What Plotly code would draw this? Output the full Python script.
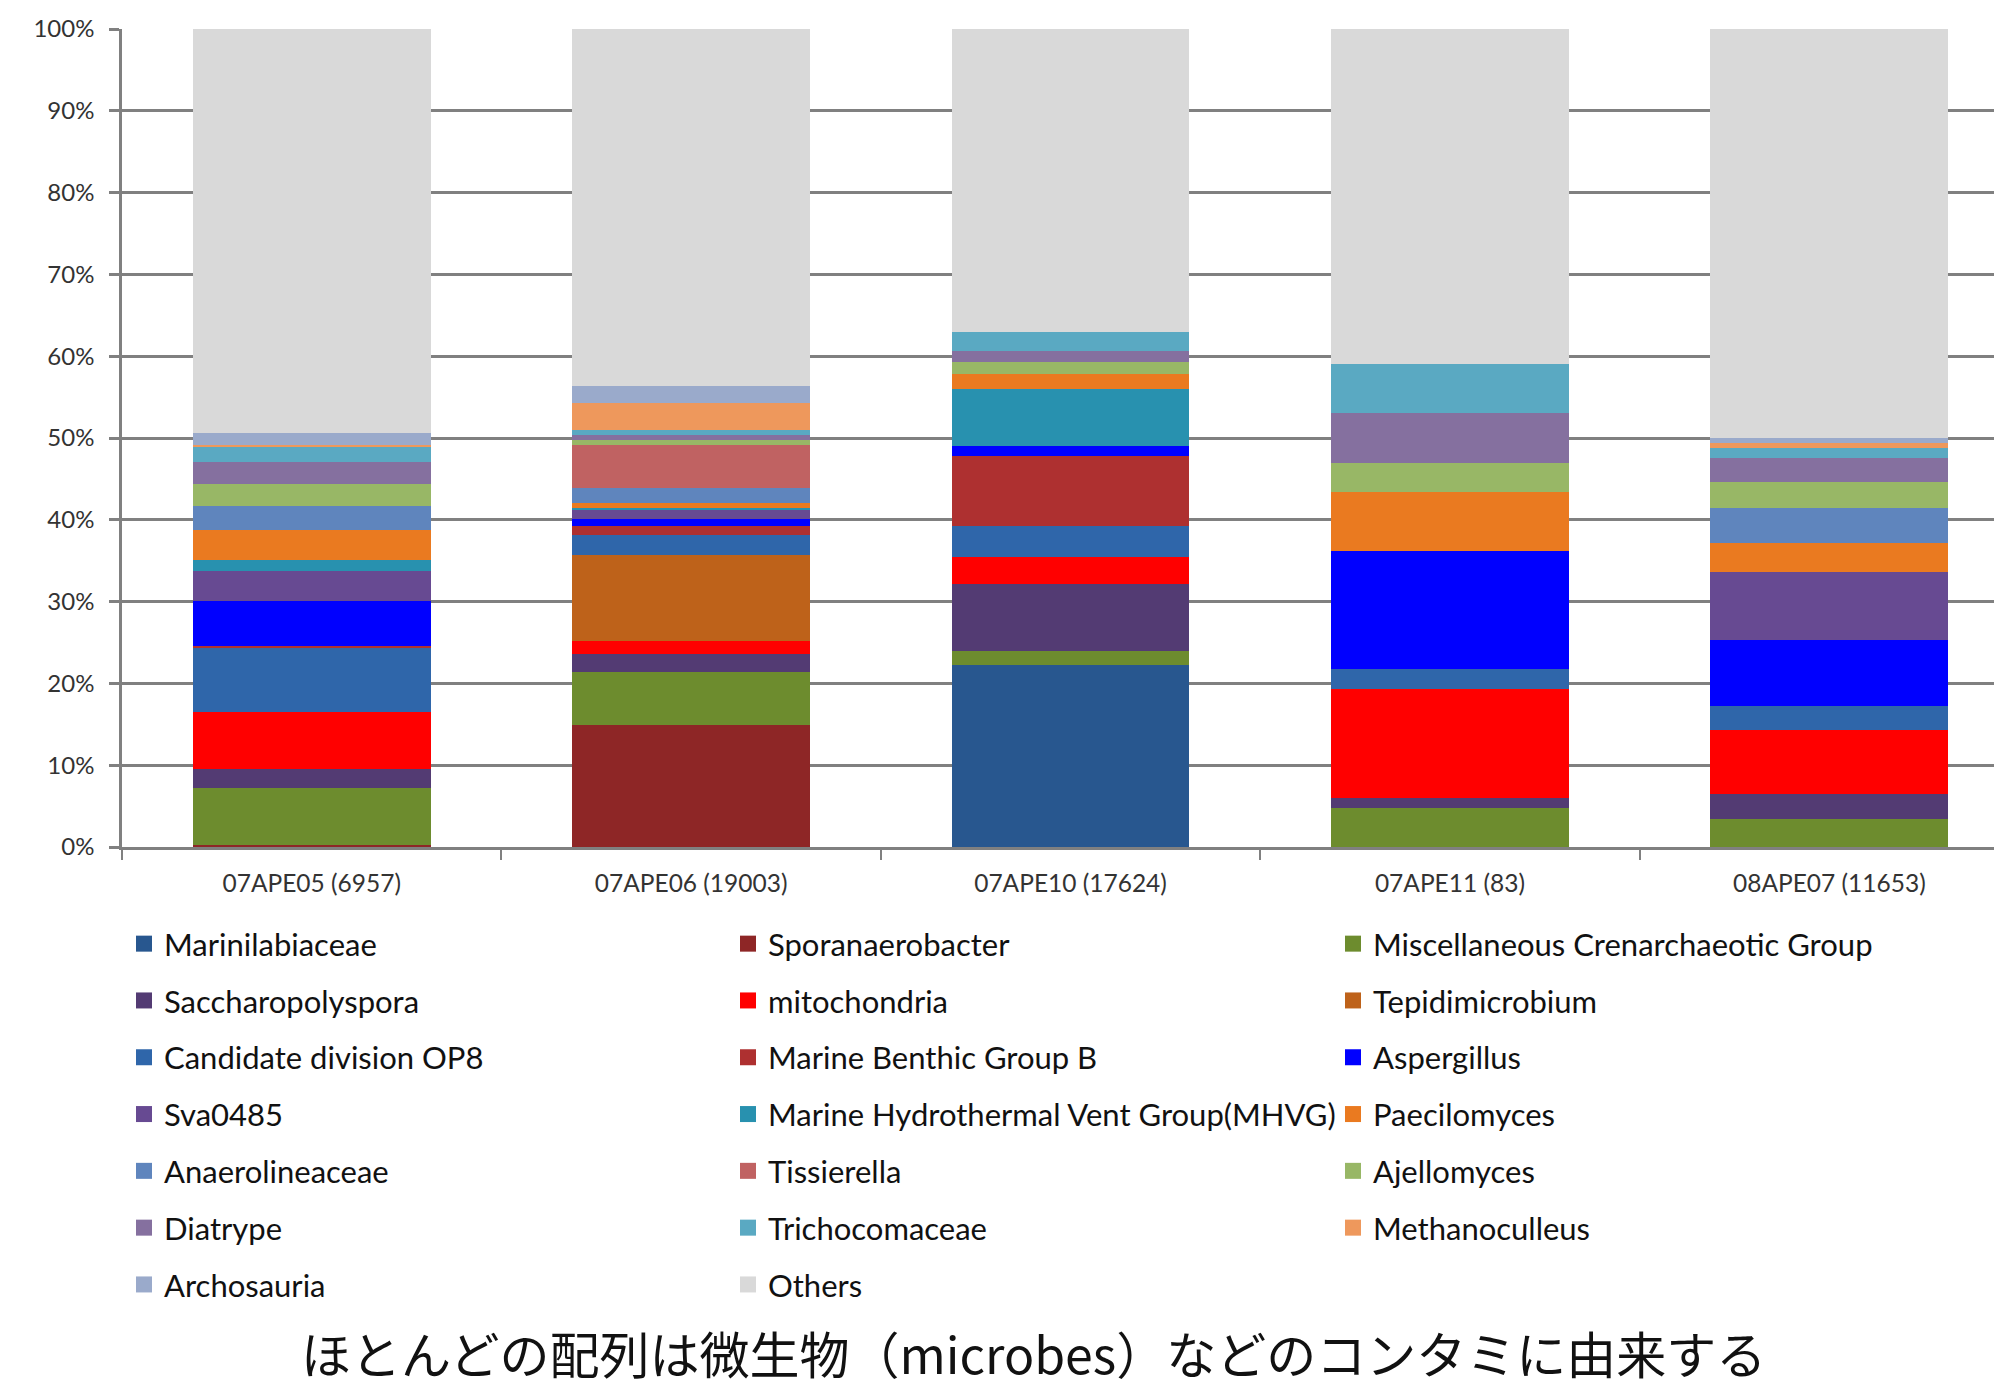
import plotly.graph_objects as go

samples = ["07APE05 (6957)", "07APE06 (19003)", "07APE10 (17624)", "07APE11 (83)", "08APE07 (11653)"]

marinilabiaceae = [0, 0, 22.2, 0, 0]
sporanaerobacter = [0.2, 14.9, 0, 0, 0]
misc_crenarchaeotic = [7.0, 6.5, 1.8, 4.8, 3.4]
saccharopolyspora = [2.3, 2.2, 8.1, 1.2, 3.1]
mitochondria = [7.0, 1.6, 3.3, 13.3, 7.8]
tepidimicrobium = [0, 10.5, 0, 0, 0]
candidate_op8 = [7.9, 2.4, 3.8, 2.4, 2.9]
marine_benthic_b = [0.2, 1.1, 8.6, 0, 0]
aspergillus = [5.5, 0.9, 1.2, 14.5, 8.1]
sva0485 = [3.6, 1.2, 0, 0, 8.3]
mhvg = [1.4, 0.1, 7.0, 0, 0]
paecilomyces = [3.7, 0.7, 1.8, 7.2, 3.6]
anaerolineaceae = [2.9, 1.8, 0, 0, 4.2]
tissierella = [0, 5.3, 0, 0, 0]
ajellomyces = [2.7, 0.5, 1.5, 3.6, 3.2]
diatrype = [2.7, 0.7, 1.3, 6.0, 2.9]
trichocomaceae = [1.8, 0.6, 2.4, 6.0, 1.3]
methanoculleus = [0.2, 3.3, 0, 0, 0.6]
archosauria = [1.5, 2.0, 0, 0, 0.6]
others = [49.4, 43.7, 37.0, 41.0, 50.0]

series = [
    ("Marinilabiaceae", marinilabiaceae, "#28578F", "legend"),
    ("Sporanaerobacter", sporanaerobacter, "#8E2626", "legend2"),
    ("Miscellaneous Crenarchaeotic Group", misc_crenarchaeotic, "#6D8C2E", "legend3"),
    ("Saccharopolyspora", saccharopolyspora, "#533B73", "legend"),
    ("mitochondria", mitochondria, "#FF0000", "legend2"),
    ("Tepidimicrobium", tepidimicrobium, "#BE621A", "legend3"),
    ("Candidate division OP8", candidate_op8, "#2F66AA", "legend"),
    ("Marine Benthic Group B", marine_benthic_b, "#AE3030", "legend2"),
    ("Aspergillus", aspergillus, "#0000FF", "legend3"),
    ("Sva0485", sva0485, "#674A92", "legend"),
    ("Marine Hydrothermal Vent Group(MHVG)", mhvg, "#2891AF", "legend2"),
    ("Paecilomyces", paecilomyces, "#EA7A20", "legend3"),
    ("Anaerolineaceae", anaerolineaceae, "#5F85BD", "legend"),
    ("Tissierella", tissierella, "#C06262", "legend2"),
    ("Ajellomyces", ajellomyces, "#98B766", "legend3"),
    ("Diatrype", diatrype, "#85709F", "legend"),
    ("Trichocomaceae", trichocomaceae, "#5AA9C2", "legend2"),
    ("Methanoculleus", methanoculleus, "#EE985C", "legend3"),
    ("Archosauria", archosauria, "#9AAACB", "legend"),
    ("Others", others, "#D9D9D9", "legend2"),
]

W, H = 1994, 1388
L, T, B = 122, 29, 541
AXIS_GRAY = "#808080"

fig = go.Figure()
for name, vals, color, leg in series:
    fig.add_trace(go.Bar(
        x=samples, y=vals, name=name, showlegend=False, legendgroup=name,
        marker=dict(color=color, line=dict(width=0)),
    ))
# legend-only entries (larger square swatches than the default bar legend symbol)
for name, vals, color, leg in series:
    fig.add_trace(go.Scatter(
        x=[None], y=[None], mode="markers", name=name, legend=leg, legendgroup=name,
        marker=dict(symbol="square", size=16, color=color, line=dict(width=0)),
        hoverinfo="skip",
    ))

leg_common = dict(
    xref="container", yref="container", xanchor="left", yanchor="top",
    orientation="v", traceorder="grouped", tracegroupgap=13.5,
    font=dict(family="Lato", size=31, color="#111111"),
    bgcolor="rgba(0,0,0,0)", borderwidth=0, itemsizing="trace",
)
legend_top = 1 - 917 / H

fig.update_layout(
    width=W, height=H,
    margin=dict(l=L, r=0, t=T, b=B, pad=0, autoexpand=False),
    barmode="stack", bargap=0.373,
    plot_bgcolor="white", paper_bgcolor="white",
    showlegend=True,
    legend=dict(x=124 / W, y=legend_top, **leg_common),
    legend2=dict(x=728 / W, y=legend_top, **leg_common),
    legend3=dict(x=1333 / W, y=legend_top, **leg_common),
    xaxis=dict(
        range=[-0.5, 4.434], showgrid=False, automargin=False,
        showline=True, linecolor=AXIS_GRAY, linewidth=2.5,
        ticks="outside", tickson="boundaries", ticklen=10, tickwidth=1.5, tickcolor=AXIS_GRAY,
        tickfont=dict(family="Lato", size=24.5, color="#333333"),
        ticklabelstandoff=13,
    ),
    yaxis=dict(
        range=[0, 100], dtick=10, ticksuffix="%", automargin=False,
        showgrid=True, gridcolor=AXIS_GRAY, gridwidth=2.5,
        showline=True, linecolor=AXIS_GRAY, linewidth=2.5,
        ticks="outside", ticklen=10, tickwidth=2.5, tickcolor=AXIS_GRAY,
        tickfont=dict(family="Lato", size=24, color="#333333"),
        ticklabelstandoff=10, zeroline=False,
    ),
    annotations=[dict(
        text="ほとんどの配列は微生物（microbes）などのコンタミに由来する",
        xref="paper", yref="paper", x=(1033 - L) / (W - L), y=-(1352 - (H - B)) / (H - B - T),
        xanchor="center", yanchor="middle", showarrow=False,
        font=dict(family="Noto Sans CJK JP", size=50, color="#111111"),
    )],
)

fig.write_html("out.html")
